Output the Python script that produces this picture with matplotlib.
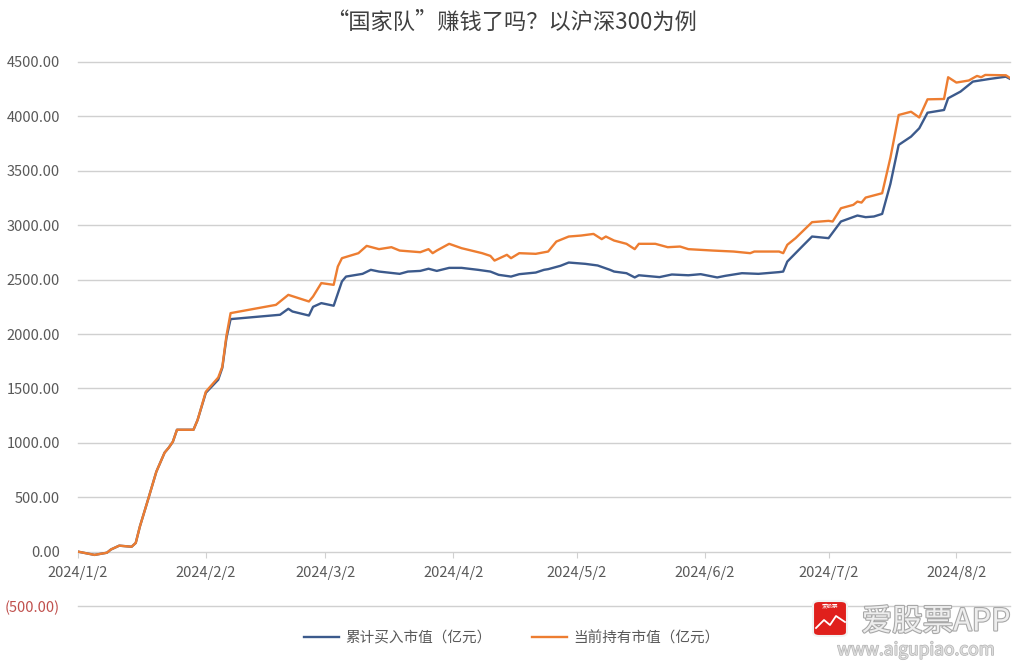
# "国家队"赚钱了吗 - 沪深300 cumulative buy vs current holding value

import matplotlib.pyplot as plt
import matplotlib.patheffects as pe
from matplotlib.patches import FancyBboxPatch
from matplotlib.lines import Line2D
import pandas as pd

plt.rcParams['font.family'] = ['Noto Sans CJK SC', 'DejaVu Sans']

title = '“国家队”赚钱了吗？以沪深300为例'
buy_label = '累计买入市值（亿元）'
hold_label = '当前持有市值（亿元）'

# cumulative buy value (亿元)
buy_dates = ['2024-01-02', '2024-01-06', '2024-01-09', '2024-01-10', '2024-01-12', '2024-01-15',
             '2024-01-16', '2024-01-17', '2024-01-19', '2024-01-21', '2024-01-23', '2024-01-24',
             '2024-01-25', '2024-01-26', '2024-01-30', '2024-01-31', '2024-02-02', '2024-02-05',
             '2024-02-06', '2024-02-07', '2024-02-08', '2024-02-20', '2024-02-22', '2024-02-23',
             '2024-02-27', '2024-02-28', '2024-03-01', '2024-03-03', '2024-03-04', '2024-03-06',
             '2024-03-07', '2024-03-11', '2024-03-13', '2024-03-15', '2024-03-20', '2024-03-22',
             '2024-03-25', '2024-03-27', '2024-03-29', '2024-04-01', '2024-04-04', '2024-04-08',
             '2024-04-11', '2024-04-13', '2024-04-16', '2024-04-18', '2024-04-22', '2024-04-24',
             '2024-04-25', '2024-04-28', '2024-04-30', '2024-05-04', '2024-05-07', '2024-05-10',
             '2024-05-11', '2024-05-14', '2024-05-16', '2024-05-17', '2024-05-22', '2024-05-25',
             '2024-05-29', '2024-06-01', '2024-06-05', '2024-06-07', '2024-06-11', '2024-06-15',
             '2024-06-20', '2024-06-21', '2024-06-22', '2024-06-24', '2024-06-26', '2024-06-28',
             '2024-07-02', '2024-07-05', '2024-07-09', '2024-07-11', '2024-07-13', '2024-07-15',
             '2024-07-17', '2024-07-19', '2024-07-22', '2024-07-24', '2024-07-26', '2024-07-30',
             '2024-07-31', '2024-08-03', '2024-08-06', '2024-08-10', '2024-08-14', '2024-08-15']
buy_values = [0, -30, -10, 20, 55, 45,
              80, 230, 480, 735, 910, 955,
              1010, 1120, 1120, 1210, 1460, 1580,
              1690, 1965, 2137, 2177, 2232, 2207,
              2170, 2250, 2284, 2268, 2260, 2483,
              2528, 2553, 2590, 2574, 2553, 2574,
              2580, 2600, 2580, 2608, 2608, 2590,
              2574, 2544, 2528, 2550, 2565, 2590,
              2596, 2627, 2657, 2645, 2630, 2590,
              2574, 2559, 2520, 2540, 2523, 2547,
              2540, 2550, 2520, 2535, 2559, 2553,
              2569, 2574, 2666, 2743, 2820, 2896,
              2881, 3034, 3089, 3074, 3080, 3104,
              3380, 3738, 3814, 3891, 4034, 4059,
              4167, 4228, 4320, 4344, 4365, 4345]

# current holding value (亿元)
hold_dates = ['2024-01-02', '2024-01-06', '2024-01-09', '2024-01-10', '2024-01-12', '2024-01-15',
              '2024-01-16', '2024-01-17', '2024-01-19', '2024-01-21', '2024-01-23', '2024-01-24',
              '2024-01-25', '2024-01-26', '2024-01-30', '2024-01-31', '2024-02-02', '2024-02-05',
              '2024-02-06', '2024-02-07', '2024-02-08', '2024-02-19', '2024-02-22', '2024-02-27',
              '2024-02-28', '2024-03-01', '2024-03-04', '2024-03-05', '2024-03-06', '2024-03-10',
              '2024-03-12', '2024-03-15', '2024-03-18', '2024-03-20', '2024-03-25', '2024-03-27',
              '2024-03-28', '2024-03-29', '2024-04-01', '2024-04-04', '2024-04-09', '2024-04-11',
              '2024-04-12', '2024-04-15', '2024-04-16', '2024-04-18', '2024-04-22', '2024-04-25',
              '2024-04-27', '2024-04-30', '2024-05-03', '2024-05-06', '2024-05-08', '2024-05-09',
              '2024-05-11', '2024-05-14', '2024-05-16', '2024-05-17', '2024-05-21', '2024-05-24',
              '2024-05-27', '2024-05-29', '2024-06-04', '2024-06-09', '2024-06-13', '2024-06-14',
              '2024-06-20', '2024-06-21', '2024-06-22', '2024-06-24', '2024-06-28', '2024-07-02',
              '2024-07-03', '2024-07-05', '2024-07-08', '2024-07-09', '2024-07-10', '2024-07-11',
              '2024-07-15', '2024-07-17', '2024-07-19', '2024-07-22', '2024-07-24', '2024-07-26',
              '2024-07-30', '2024-07-31', '2024-08-02', '2024-08-05', '2024-08-07', '2024-08-08',
              '2024-08-09', '2024-08-14', '2024-08-15']
hold_values = [0, -30, -10, 20, 55, 45,
               80, 230, 480, 735, 910, 955,
               1010, 1120, 1120, 1210, 1470, 1600,
               1700, 1985, 2192, 2268, 2360, 2299,
               2345, 2468, 2452, 2620, 2697, 2743,
               2810, 2780, 2798, 2767, 2752, 2780,
               2743, 2767, 2829, 2789, 2743, 2718,
               2675, 2728, 2697, 2743, 2737, 2758,
               2850, 2896, 2905, 2920, 2872, 2896,
               2859, 2829, 2780, 2829, 2829, 2798,
               2804, 2780, 2767, 2758, 2743, 2758,
               2758, 2743, 2820, 2881, 3028, 3040,
               3034, 3156, 3187, 3217, 3208, 3254,
               3294, 3620, 4013, 4043, 3990, 4157,
               4160, 4360, 4311, 4330, 4372, 4360,
               4381, 4378, 4353]

y_ticks = [-500, 0, 500, 1000, 1500, 2000, 2500, 3000, 3500, 4000, 4500]
x_ticks = ['2024-01-02', '2024-02-02', '2024-03-02', '2024-04-02',
           '2024-05-02', '2024-06-02', '2024-07-02', '2024-08-02']
x_tick_labels = ['2024/1/2', '2024/2/2', '2024/3/2', '2024/4/2',
                 '2024/5/2', '2024/6/2', '2024/7/2', '2024/8/2']

blue = '#3c5a8c'
orange = '#ed7d31'
grid_c = '#d0d0d0'
text_c = '#595959'

fig = plt.figure(figsize=(10.24, 6.61), dpi=100)
ax = fig.add_axes([78 / 1024, 1 - 608 / 661, (1010 - 78) / 1024, (608 - 62) / 661])

ax.plot(pd.to_datetime(buy_dates), buy_values, color=blue, lw=1.7, label=buy_label, zorder=3)
ax.plot(pd.to_datetime(hold_dates), hold_values, color=orange, lw=1.7, label=hold_label, zorder=3)

ax.set_ylim(-518, 4500)
ax.set_xlim(pd.Timestamp('2024-01-02'), pd.Timestamp('2024-08-15'))

ax.set_yticks(y_ticks)
ax.set_yticklabels([f'({abs(v):.2f})' if v < 0 else f'{v:.2f}' for v in y_ticks])
for lab, v in zip(ax.get_yticklabels(), y_ticks):
    lab.set_color('#c0504d' if v < 0 else text_c)
ax.tick_params(axis='y', length=0, pad=13, labelsize=10.5)

ax.set_xticks(pd.to_datetime(x_ticks))
ax.set_xticklabels(x_tick_labels)
ax.tick_params(axis='x', direction='out', length=4, color=grid_c, labelcolor=text_c,
               labelsize=10.5, pad=6)

# horizontal gridlines
for v in y_ticks:
    if v != 0:
        ax.axhline(v, color=grid_c, lw=1.0, zorder=1, clip_on=False, snap=True)
for s in ['top', 'right', 'left']:
    ax.spines[s].set_visible(False)
ax.spines['bottom'].set_position(('data', 0))
ax.spines['bottom'].set_color(grid_c)
ax.spines['bottom'].set_linewidth(1.0)

fig.text(0.5, 1 - 22 / 661, title, ha='center', va='center', fontsize=16, color='#404040')

fig.legend(loc='center', bbox_to_anchor=(0.5, 1 - 638 / 661), ncol=2, frameon=False,
           fontsize=10.5, handlelength=2.4, handletextpad=0.4, columnspacing=2.8,
           labelcolor=text_c)

# watermark
icon = FancyBboxPatch((813 / 1024, 1 - 636 / 661), 34 / 1024, 35 / 661,
                      boxstyle='round,pad=0,rounding_size=0.006', transform=fig.transFigure,
                      facecolor='#e0201c', edgecolor='#f2f2f2', lw=1.5)
fig.patches.append(icon)
fig.lines.append(Line2D([816 / 1024, 824 / 1024, 830 / 1024, 836 / 1024, 845 / 1024],
                        [1 - 628 / 661, 1 - 620 / 661, 1 - 625 / 661, 1 - 616 / 661, 1 - 622 / 661],
                        transform=fig.transFigure, color='white', lw=1.3))
fig.text(830 / 1024, 1 - 606 / 661, '爱股票', ha='center', va='center', fontsize=4,
         color='white')
fig.text(936 / 1024, 1 - 622 / 661, '爱股票APP', ha='center', va='center', fontsize=22,
         color='#eeeeee',
         path_effects=[pe.withStroke(linewidth=1.6, foreground='#a8a8a8')])
fig.text(916 / 1024, 1 - 650 / 661, 'www.aigupiao.com', ha='center', va='center', fontsize=12.5,
         color='#dddddd',
         path_effects=[pe.withStroke(linewidth=1.0, foreground='#b5b5b5')])

fig.savefig('out.png', dpi=100)
